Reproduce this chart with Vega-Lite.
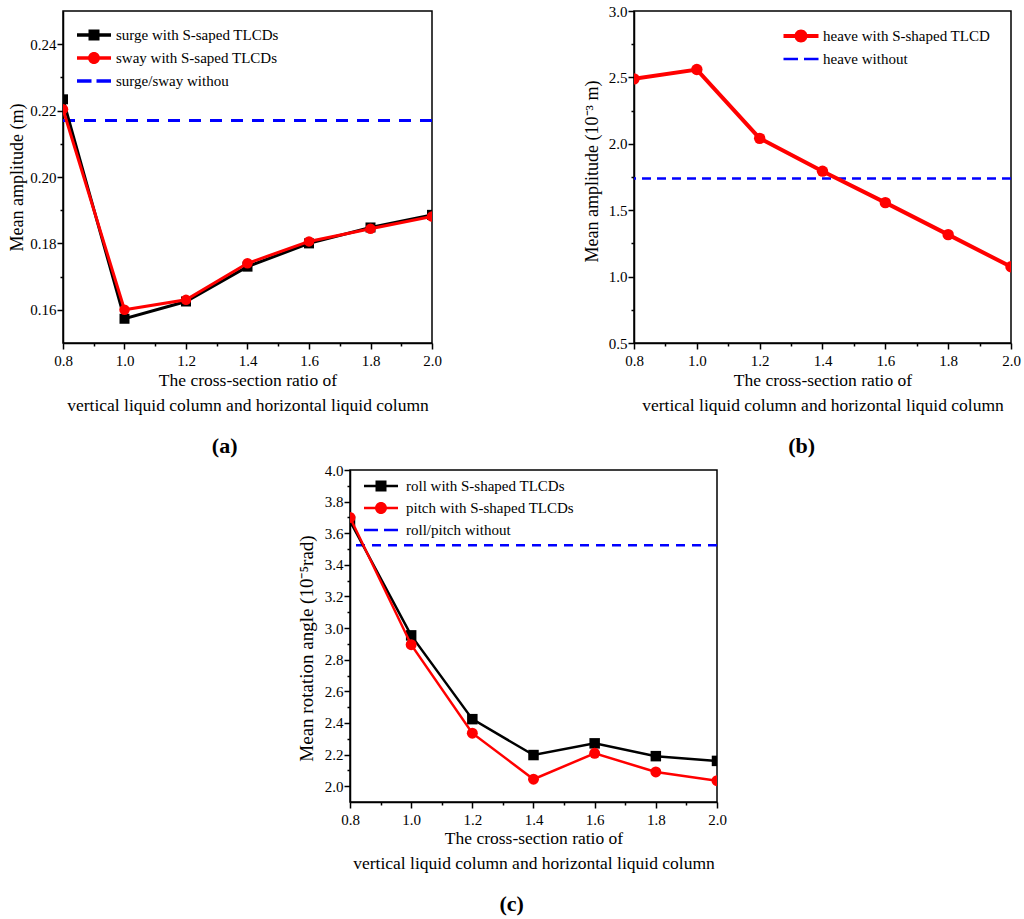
{
  "$schema": "https://vega.github.io/schema/vega-lite/v6.json",
  "background": "white",
  "padding": {"left": 7, "top": 3, "right": 2, "bottom": 2},
  "config": {
    "font": "Liberation Serif",
    "view": {"stroke": "black", "strokeWidth": 1.5},
    "axis": {
      "grid": false,
      "domainColor": "black", "domainWidth": 1.5,
      "tickColor": "black", "tickWidth": 1.5, "tickSize": 6,
      "labelColor": "black", "labelFontSize": 15, "labelFont": "Liberation Serif",
      "titleColor": "black", "titleFontWeight": "normal", "titleFont": "Liberation Serif",
      "labelFlush": false, "labelOverlap": false
    },
    "legend": {
      "labelFont": "Liberation Serif", "labelFontSize": 15, "labelColor": "black",
      "labelLimit": 500, "symbolStrokeWidth": 0, "symbolOpacity": 1, "padding": 0, "rowPadding": 5
    },
    "title": {"font": "Liberation Serif", "fontSize": 22, "fontWeight": "bold", "color": "black"}
  },
  "datasets": {
    "a": [
      {"x": 0.8, "surge": 0.2234, "sway": 0.2204},
      {"x": 1.0, "surge": 0.1573, "sway": 0.1600},
      {"x": 1.2, "surge": 0.1625, "sway": 0.1630},
      {"x": 1.4, "surge": 0.1730, "sway": 0.1740},
      {"x": 1.6, "surge": 0.1800, "sway": 0.1806},
      {"x": 1.8, "surge": 0.1848, "sway": 0.1844},
      {"x": 2.0, "surge": 0.1886, "sway": 0.1881}
    ],
    "a_ref": [{"without": 0.217}],
    "b": [
      {"x": 0.8, "heave": 2.489},
      {"x": 1.0, "heave": 2.559},
      {"x": 1.2, "heave": 2.041},
      {"x": 1.4, "heave": 1.794},
      {"x": 1.6, "heave": 1.557},
      {"x": 1.8, "heave": 1.316},
      {"x": 2.0, "heave": 1.074}
    ],
    "b_ref": [{"without": 1.739}],
    "c": [
      {"x": 0.8, "roll": 3.677, "pitch": 3.700},
      {"x": 1.0, "roll": 2.954, "pitch": 2.895},
      {"x": 1.2, "roll": 2.424, "pitch": 2.335},
      {"x": 1.4, "roll": 2.197, "pitch": 2.044},
      {"x": 1.6, "roll": 2.271, "pitch": 2.208},
      {"x": 1.8, "roll": 2.190, "pitch": 2.090},
      {"x": 2.0, "roll": 2.160, "pitch": 2.035}
    ],
    "c_ref": [{"without": 3.524}]
  },
  "spacing": 4,
  "resolve": {"scale": {"color": "independent", "shape": "independent"}, "legend": {"color": "independent", "shape": "independent"}},
  "vconcat": [
    {
      "resolve": {"scale": {"color": "independent", "shape": "independent"}, "legend": {"color": "independent", "shape": "independent"}},
      "hconcat": [
        {
          "width": 369, "height": 332,
          "title": {"text": "(a)", "orient": "bottom", "anchor": "middle", "frame": "bounds", "offset": 22},
          "resolve": {"axis": {"x": "independent", "y": "independent"}},
          "layer": [
            {
              "data": {"name": "a_ref"},
              "mark": {"type": "rule", "color": "#0000ff", "strokeWidth": 3, "strokeDash": [12, 9]},
              "encoding": {"y": {"field": "without", "type": "quantitative",
                "axis": {"orient": "left", "title": null, "labels": false, "domain": false, "tickSize": 3,
                  "values": [0.17, 0.19, 0.21, 0.23]}}}
            },
            {
              "data": {"name": "a"},
              "mark": {"type": "line", "color": "black", "strokeWidth": 3, "clip": true},
              "encoding": {
                "x": {"field": "x", "type": "quantitative",
                  "scale": {"domain": [0.8, 2.0], "nice": false, "zero": false},
                  "axis": {"orient": "bottom", "title": ["The cross-section ratio of", "vertical liquid column and horizontal liquid column"],
                    "values": [0.8, 1.0, 1.2, 1.4, 1.6, 1.8, 2.0], "format": ".1f",
                    "labelPadding": 4, "titleFontSize": 17.5, "titleLineHeight": 25,
                    "titleX": 184.5, "titleY": 42, "titleAlign": "center", "titleBaseline": "alphabetic"}},
                "y": {"field": "surge", "type": "quantitative",
                  "scale": {"domain": [0.15, 0.25], "nice": false, "zero": false},
                  "axis": {"orient": "left", "title": "Mean amplitude (m)",
                    "values": [0.16, 0.18, 0.2, 0.22, 0.24], "format": ".2f",
                    "labelPadding": 1, "titleFontSize": 18,
                    "titleX": -46, "titleY": 166, "titleAngle": -90, "titleAlign": "center", "titleBaseline": "middle"}}
              }
            },
            {
              "data": {"name": "a"},
              "mark": {"type": "point", "shape": "square", "filled": true, "color": "black", "size": 100, "opacity": 1, "strokeWidth": 0, "clip": true},
              "encoding": {
                "x": {"field": "x", "type": "quantitative",
                  "axis": {"orient": "bottom", "title": null, "labels": false, "domain": false, "tickSize": 3,
                    "values": [0.9, 1.1, 1.3, 1.5, 1.7, 1.9]}},
                "y": {"field": "surge", "type": "quantitative", "axis": null}}
            },
            {
              "data": {"name": "a"},
              "mark": {"type": "line", "color": "#ff0000", "strokeWidth": 3, "clip": true},
              "encoding": {"x": {"field": "x", "type": "quantitative", "axis": null}, "y": {"field": "sway", "type": "quantitative", "axis": null}}
            },
            {
              "data": {"name": "a"},
              "mark": {"type": "point", "shape": "circle", "filled": true, "color": "#ff0000", "size": 110, "opacity": 1, "strokeWidth": 0, "clip": true},
              "encoding": {"x": {"field": "x", "type": "quantitative", "axis": null}, "y": {"field": "sway", "type": "quantitative", "axis": null}}
            },
            {
              "data": {"values": []},
              "mark": {"type": "point", "filled": true, "opacity": 1},
              "encoding": {
                "color": {"field": "series", "type": "nominal",
                  "scale": {"domain": ["surge with S-saped TLCDs", "sway  with S-saped TLCDs", "surge/sway withou"], "range": ["black", "#ff0000", "#0000ff"]},
                  "legend": {"orient": "none", "legendX": 21, "legendY": 14, "title": null, "symbolSize": 400, "labelOffset": 12, "rowPadding": 5, "symbolOpacity": 1}},
                "shape": {"field": "series", "type": "nominal",
                  "scale": {"domain": ["surge with S-saped TLCDs", "sway  with S-saped TLCDs", "surge/sway withou"],
                    "range": ["M-1.7,-0.17H1.7V0.17H-1.7Z M-0.55,-0.55H0.55V0.55H-0.55Z",
                              "M-1.7,-0.17H1.7V0.17H-1.7Z M0.6,0A0.6,0.6,0,1,1,-0.6,0A0.6,0.6,0,1,1,0.6,0Z",
                              "M-1.7,-0.17H-0.25V0.17H-1.7Z M0.25,-0.17H1.7V0.17H0.25Z"]},
                  "legend": {"orient": "none", "legendX": 21, "legendY": 14, "title": null, "symbolSize": 400, "labelOffset": 12, "rowPadding": 5, "symbolOpacity": 1}}
              }
            }
          ]
        },
        {
          "width": 377, "height": 332,
          "title": {"text": "(b)", "orient": "bottom", "anchor": "middle", "frame": "bounds", "offset": 22},
          "resolve": {"axis": {"x": "independent", "y": "independent"}},
          "layer": [
            {
              "data": {"name": "b_ref"},
              "mark": {"type": "rule", "color": "#0000ff", "strokeWidth": 2.5, "strokeDash": [9, 6]},
              "encoding": {"y": {"field": "without", "type": "quantitative",
                "axis": {"orient": "left", "title": null, "labels": false, "domain": false, "tickSize": 3,
                  "values": [0.75, 1.25, 1.75, 2.25, 2.75]}}}
            },
            {
              "data": {"name": "b"},
              "mark": {"type": "line", "color": "#ff0000", "strokeWidth": 4, "clip": true},
              "encoding": {
                "x": {"field": "x", "type": "quantitative",
                  "scale": {"domain": [0.8, 2.0], "nice": false, "zero": false},
                  "axis": {"orient": "bottom", "title": ["The cross-section ratio of", "vertical liquid column and horizontal liquid column"],
                    "values": [0.8, 1.0, 1.2, 1.4, 1.6, 1.8, 2.0], "format": ".1f",
                    "labelPadding": 4, "titleFontSize": 17.5, "titleLineHeight": 25,
                    "titleX": 188.5, "titleY": 42, "titleAlign": "center", "titleBaseline": "alphabetic"}},
                "y": {"field": "heave", "type": "quantitative",
                  "scale": {"domain": [0.5, 3.0], "nice": false, "zero": false},
                  "axis": {"orient": "left", "title": "Mean amplitude (10⁻³ m)",
                    "values": [0.5, 1.0, 1.5, 2.0, 2.5, 3.0], "format": ".1f",
                    "labelPadding": 1, "titleFontSize": 18,
                    "titleX": -42, "titleY": 160, "titleAngle": -90, "titleAlign": "center", "titleBaseline": "middle"}}
              }
            },
            {
              "data": {"name": "b"},
              "mark": {"type": "point", "shape": "circle", "filled": true, "color": "#ff0000", "size": 130, "opacity": 1, "strokeWidth": 0, "clip": true},
              "encoding": {
                "x": {"field": "x", "type": "quantitative",
                  "axis": {"orient": "bottom", "title": null, "labels": false, "domain": false, "tickSize": 3,
                    "values": [0.9, 1.1, 1.3, 1.5, 1.7, 1.9]}},
                "y": {"field": "heave", "type": "quantitative", "axis": null}}
            },
            {
              "data": {"values": []},
              "mark": {"type": "point", "filled": true, "opacity": 1},
              "encoding": {
                "color": {"field": "series", "type": "nominal",
                  "scale": {"domain": ["heave with S-shaped TLCD", "heave without"], "range": ["#ff0000", "#0000ff"]},
                  "legend": {"orient": "none", "legendX": 157, "legendY": 15, "title": null, "symbolSize": 400, "labelOffset": 12, "rowPadding": 5, "symbolOpacity": 1}},
                "shape": {"field": "series", "type": "nominal",
                  "scale": {"domain": ["heave with S-shaped TLCD", "heave without"],
                    "range": ["M-1.75,-0.2H1.75V0.2H-1.75Z M0.65,0A0.65,0.65,0,1,1,-0.65,0A0.65,0.65,0,1,1,0.65,0Z",
                              "M-1.75,-0.12H-0.3V0.12H-1.75Z M0.3,-0.12H1.75V0.12H0.3Z"]},
                  "legend": {"orient": "none", "legendX": 157, "legendY": 15, "title": null, "symbolSize": 400, "labelOffset": 12, "rowPadding": 5, "symbolOpacity": 1}}
              }
            }
          ]
        }
      ],
      "spacing": 202,
      "bounds": "flush"
    },
    {
      "resolve": {"scale": {"color": "independent", "shape": "independent"}, "legend": {"color": "independent", "shape": "independent"}},
      "hconcat": [
        {
          "width": 277, "height": 10,
          "view": {"stroke": null},
          "data": {"values": []},
          "mark": {"type": "point"},
          "encoding": {}
        },
        {
          "width": 367, "height": 332,
          "title": {"text": "(c)", "orient": "bottom", "anchor": "middle", "frame": "bounds", "offset": 22},
          "resolve": {"axis": {"x": "independent", "y": "independent"}},
          "layer": [
            {
              "data": {"name": "c_ref"},
              "mark": {"type": "rule", "color": "#0000ff", "strokeWidth": 2.5, "strokeDash": [9, 7]},
              "encoding": {"y": {"field": "without", "type": "quantitative",
                "axis": {"orient": "left", "title": null, "labels": false, "domain": false, "tickSize": 3,
                  "values": [2.1, 2.3, 2.5, 2.7, 2.9, 3.1, 3.3, 3.5, 3.7, 3.9]}}}
            },
            {
              "data": {"name": "c"},
              "mark": {"type": "line", "color": "black", "strokeWidth": 2.5, "clip": true},
              "encoding": {
                "x": {"field": "x", "type": "quantitative",
                  "scale": {"domain": [0.8, 2.0], "nice": false, "zero": false},
                  "axis": {"orient": "bottom", "title": ["The cross-section ratio of", "vertical liquid column and horizontal liquid column"],
                    "values": [0.8, 1.0, 1.2, 1.4, 1.6, 1.8, 2.0], "format": ".1f",
                    "labelPadding": 4, "titleFontSize": 17.5, "titleLineHeight": 25,
                    "titleX": 183.5, "titleY": 41, "titleAlign": "center", "titleBaseline": "alphabetic"}},
                "y": {"field": "roll", "type": "quantitative",
                  "scale": {"domain": [1.9, 4.0], "nice": false, "zero": false},
                  "axis": {"orient": "left", "title": "Mean rotation angle (10⁻⁵rad)",
                    "values": [2.0, 2.2, 2.4, 2.6, 2.8, 3.0, 3.2, 3.4, 3.6, 3.8, 4.0], "format": ".1f",
                    "labelPadding": 1, "titleFontSize": 19,
                    "titleX": -44, "titleY": 178, "titleAngle": -90, "titleAlign": "center", "titleBaseline": "middle"}}
              }
            },
            {
              "data": {"name": "c"},
              "mark": {"type": "point", "shape": "square", "filled": true, "color": "black", "size": 110, "opacity": 1, "strokeWidth": 0, "clip": true},
              "encoding": {
                "x": {"field": "x", "type": "quantitative",
                  "axis": {"orient": "bottom", "title": null, "labels": false, "domain": false, "tickSize": 3,
                    "values": [0.9, 1.1, 1.3, 1.5, 1.7, 1.9]}},
                "y": {"field": "roll", "type": "quantitative", "axis": null}}
            },
            {
              "data": {"name": "c"},
              "mark": {"type": "line", "color": "#ff0000", "strokeWidth": 2.5, "clip": true},
              "encoding": {"x": {"field": "x", "type": "quantitative", "axis": null}, "y": {"field": "pitch", "type": "quantitative", "axis": null}}
            },
            {
              "data": {"name": "c"},
              "mark": {"type": "point", "shape": "circle", "filled": true, "color": "#ff0000", "size": 120, "opacity": 1, "strokeWidth": 0, "clip": true},
              "encoding": {"x": {"field": "x", "type": "quantitative", "axis": null}, "y": {"field": "pitch", "type": "quantitative", "axis": null}}
            },
            {
              "data": {"values": []},
              "mark": {"type": "point", "filled": true, "opacity": 1},
              "encoding": {
                "color": {"field": "series", "type": "nominal",
                  "scale": {"domain": ["roll  with S-shaped TLCDs", "pitch with S-shaped TLCDs", "roll/pitch without"], "range": ["black", "#ff0000", "#0000ff"]},
                  "legend": {"orient": "none", "legendX": 21, "legendY": 6, "title": null, "symbolSize": 400, "labelOffset": 15, "rowPadding": 4, "symbolOpacity": 1}},
                "shape": {"field": "series", "type": "nominal",
                  "scale": {"domain": ["roll  with S-shaped TLCDs", "pitch with S-shaped TLCDs", "roll/pitch without"],
                    "range": ["M-1.7,-0.13H1.7V0.13H-1.7Z M-0.55,-0.55H0.55V0.55H-0.55Z",
                              "M-1.7,-0.13H1.7V0.13H-1.7Z M0.6,0A0.6,0.6,0,1,1,-0.6,0A0.6,0.6,0,1,1,0.6,0Z",
                              "M-1.7,-0.12H-0.3V0.12H-1.7Z M0.3,-0.12H1.7V0.12H0.3Z"]},
                  "legend": {"orient": "none", "legendX": 21, "legendY": 6, "title": null, "symbolSize": 400, "labelOffset": 15, "rowPadding": 4, "symbolOpacity": 1}}
              }
            }
          ]
        }
      ],
      "spacing": 10,
      "bounds": "flush"
    }
  ]
}
